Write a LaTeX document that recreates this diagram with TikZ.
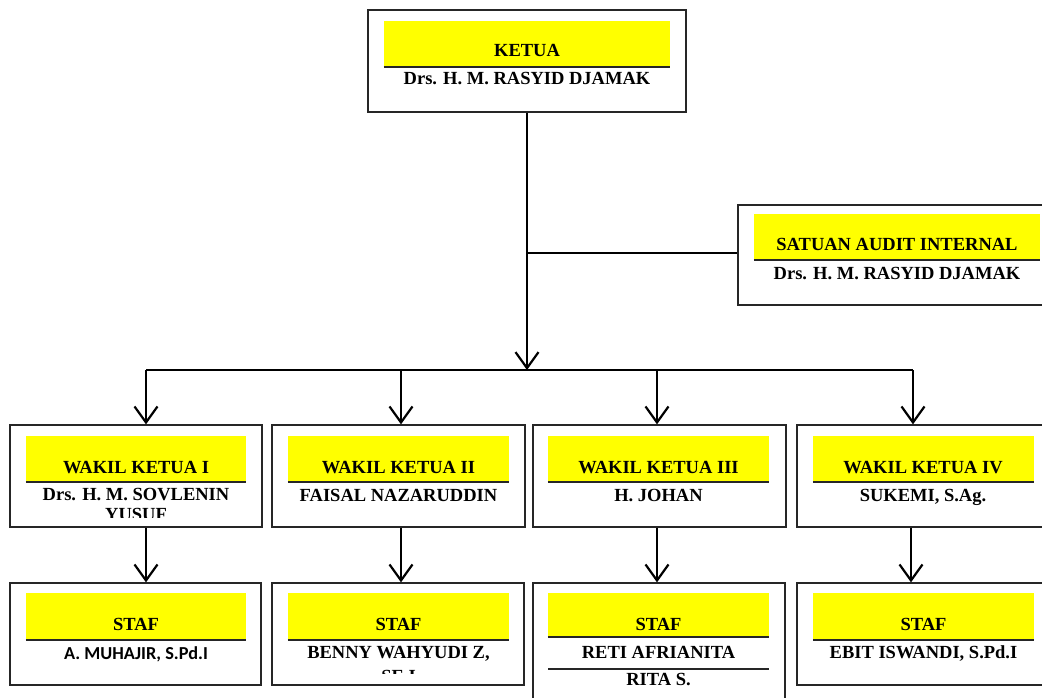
\documentclass[tikz,border=0pt]{standalone}
\usepackage{fontspec}
\setmainfont{Liberation Serif}
\newfontfamily\calib{Carlito}
\usetikzlibrary{arrows.meta}
\definecolor{bandyellow}{RGB}{255,255,0}
\begin{document}
\begin{tikzpicture}[x=1pt,y=-1pt,
  box/.style={draw=black!85, line width=1.3pt, inner sep=0pt, fill=white},
  band/.style={fill=bandyellow, inner sep=0pt, minimum height=46pt},
  uline/.style={draw=black!85, line width=1.5pt},
  lbl/.style={font=\fontsize{18.5}{20}\selectfont\bfseries, anchor=base, inner sep=0pt},
  clbl/.style={font=\calib\fontsize{18.3}{20}\selectfont\bfseries, anchor=base, inner sep=0pt},
  conn/.style={line width=2.2pt},
  arr/.style={conn, -{Straight Barb[length=16pt,width=23pt]}}]
\useasboundingbox (0,0) rectangle (1042,698);
\clip (0,0) rectangle (1042,698);
\fill[white] (0,0) rectangle (1042,698);

% ---------- boxes ----------
\node[box, minimum width=318pt, minimum height=102pt] (ketua) at (527,61) {};
\node[box, minimum width=318pt, minimum height=100pt] (sai) at (897,255) {};

\node[box, minimum width=252pt, minimum height=102pt] (w1) at (136,476) {};
\node[box, minimum width=253pt, minimum height=102pt] (w2) at (398.5,476) {};
\node[box, minimum width=253pt, minimum height=102pt] (w3) at (659.5,476) {};
\node[box, minimum width=252pt, minimum height=102pt] (w4) at (923,476) {};

\node[box, minimum width=251pt, minimum height=102pt] (s1) at (135.5,634) {};
\node[box, minimum width=252pt, minimum height=102pt] (s2) at (398,634) {};
\node[box, minimum width=252pt, minimum height=127pt] (s3) at (659,646.5) {};
\node[box, minimum width=252pt, minimum height=102pt] (s4) at (923,634) {};

% ---------- yellow bands ----------
\node[band, minimum width=286pt] (bk) at (527,44) {};
\node[band, minimum width=286pt] (bs) at (897,237) {};
\node[band, minimum width=220pt] (bw1) at (136,459) {};
\node[band, minimum width=221pt] (bw2) at (398.5,459) {};
\node[band, minimum width=221pt] (bw3) at (658.5,459) {};
\node[band, minimum width=221pt] (bw4) at (923.5,459) {};
\node[band, minimum width=220pt, minimum height=47pt] (bs1) at (136,616.5) {};
\node[band, minimum width=221pt, minimum height=47pt] (bs2) at (398.5,616.5) {};
\node[band, minimum width=221pt, minimum height=44pt] (bs3) at (658.5,615) {};
\node[band, minimum width=221pt, minimum height=47pt] (bs4) at (923.5,616.5) {};
\foreach \b in {bk,bs,bw1,bw2,bw3,bw4,bs1,bs2,bs3,bs4}
  \draw[uline] (\b.south west) -- (\b.south east);
\draw[uline] (548,669) -- (769,669);

% ---------- texts ----------
\node[lbl] (tk) at (527,57) {KETUA};
\node[lbl] (nk) at (527,85) {Drs. H. M. RASYID DJAMAK};
\node[lbl] (ts) at (897,250) {SATUAN AUDIT INTERNAL};
\node[lbl] (ns) at (897,279) {Drs. H. M. RASYID DJAMAK};

\node[lbl] (tw1) at (136,473) {WAKIL KETUA I};
\node[lbl] (tw2) at (398.5,473) {WAKIL KETUA II};
\node[lbl] (tw3) at (658.5,473) {WAKIL KETUA III};
\node[lbl] (tw4) at (923,473) {WAKIL KETUA IV};
\node[lbl] (nw1) at (136,500) {Drs. H. M. SOVLENIN};
\begin{scope}
  \clip (10,425) rectangle (262,517);
  \node[lbl] (nw1b) at (136,520) {YUSUF};
\end{scope}
\node[lbl] (nw2) at (398.5,501) {FAISAL NAZARUDDIN};
\node[lbl] (nw3) at (658.5,501) {H. JOHAN};
\node[lbl] (nw4) at (923,501) {SUKEMI, S.Ag.};

\node[lbl] (ts1) at (136,630) {STAF};
\node[lbl] (ts2) at (398.5,630) {STAF};
\node[lbl] (ts3) at (658.5,630) {STAF};
\node[lbl] (ts4) at (923.5,630) {STAF};
\node[clbl] (ns1) at (136,659) {A. MUHAJIR, S.Pd.I};
\node[lbl] (ns2) at (398.5,658) {BENNY WAHYUDI Z,};
\begin{scope}
  \clip (272,583) rectangle (524,673);
  \node[lbl] (ns2b) at (398.5,682) {SE.I};
\end{scope}
\node[lbl] (ns3) at (658.5,658) {RETI AFRIANITA};
\node[lbl] (ns3b) at (658.5,685) {RITA S.};
\node[lbl] (ns4) at (923.5,658) {EBIT ISWANDI, S.Pd.I};

% ---------- connectors ----------
\coordinate (bus) at (527,370);
\coordinate (branch) at (527,253);
\coordinate (b1) at (146,370);
\coordinate (b2) at (401,370);
\coordinate (b3) at (657,370);
\coordinate (b4) at (913,370);
\coordinate (c4) at (911,370);

\draw[conn, line width=1.7pt] (branch) -- (branch -| sai.west);
\draw[conn, line width=1.9pt] (b1) -- (b4);
\draw[arr] (ketua.south) -- (bus);
\draw[arr] (b1) -- (b1 |- w1.north);
\draw[arr] (b2) -- (b2 |- w2.north);
\draw[arr] (b3) -- (b3 |- w3.north);
\draw[arr] (b4) -- (b4 |- w4.north);
\draw[arr] (b1 |- w1.south) -- (b1 |- s1.north);
\draw[arr] (b2 |- w2.south) -- (b2 |- s2.north);
\draw[arr] (b3 |- w3.south) -- (b3 |- s3.north);
\draw[arr] (c4 |- w4.south) -- (c4 |- s4.north);
\end{tikzpicture}
\end{document}
